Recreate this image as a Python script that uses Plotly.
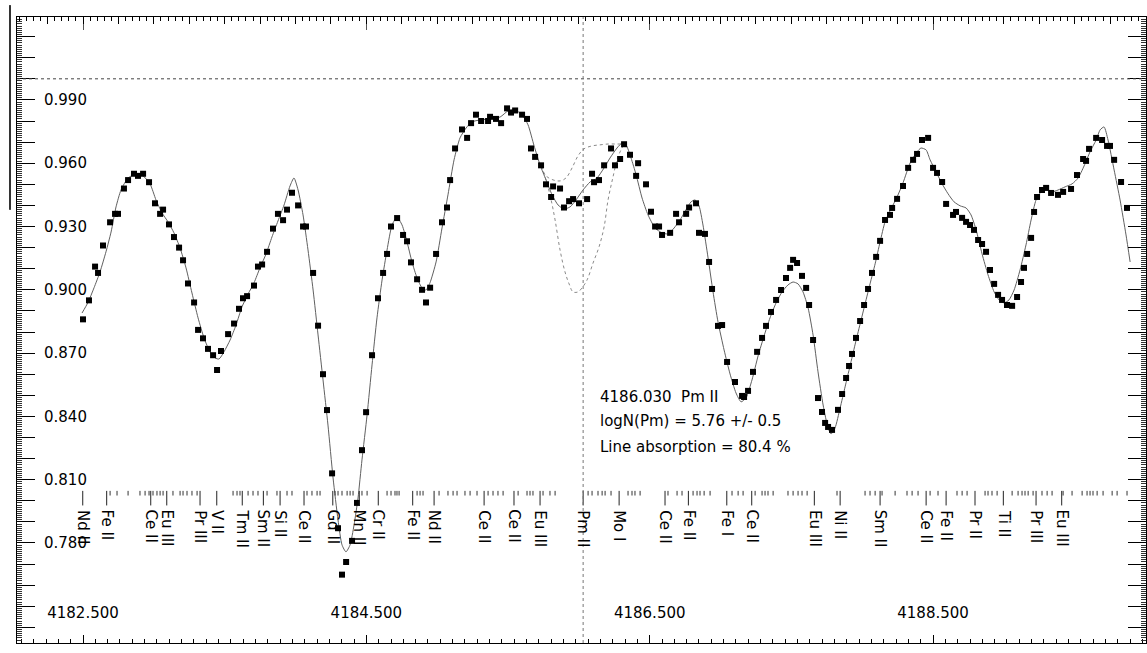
import plotly.graph_objects as go

# ---------------- data ----------------
wl_obs = [4182.500, 4182.542, 4182.585, 4182.606, 4182.641, 4182.691, 4182.726, 4182.747, 4182.789, 4182.818,
          4182.860, 4182.888, 4182.924, 4182.966, 4183.008, 4183.044, 4183.065, 4183.107, 4183.142, 4183.178,
          4183.206, 4183.241, 4183.284, 4183.312, 4183.347, 4183.382, 4183.418, 4183.446, 4183.474, 4183.524,
          4183.566, 4183.601, 4183.629, 4183.658, 4183.707, 4183.735, 4183.764, 4183.799, 4183.841, 4183.876,
          4183.912, 4183.940, 4183.975, 4184.018, 4184.053, 4184.074, 4184.124, 4184.159, 4184.194, 4184.222,
          4184.258, 4184.300, 4184.328, 4184.357, 4184.399, 4184.434, 4184.469, 4184.498, 4184.540, 4184.582,
          4184.618, 4184.646, 4184.674, 4184.717, 4184.759, 4184.787, 4184.815, 4184.858, 4184.893, 4184.921,
          4184.950, 4184.992, 4185.034, 4185.069, 4185.091, 4185.126, 4185.175, 4185.211, 4185.239, 4185.274,
          4185.310, 4185.359, 4185.373, 4185.415, 4185.451, 4185.493, 4185.521, 4185.550, 4185.599, 4185.634,
          4185.662, 4185.691, 4185.733, 4185.768, 4185.804, 4185.818, 4185.867, 4185.895, 4185.931, 4185.959,
          4186.001, 4186.058, 4186.093, 4186.107, 4186.142, 4186.178, 4186.227, 4186.255, 4186.291, 4186.319,
          4186.361, 4186.404, 4186.418, 4186.474, 4186.509, 4186.538, 4186.566, 4186.587, 4186.644, 4186.686,
          4186.707, 4186.757, 4186.778, 4186.827, 4186.848, 4186.890, 4186.919, 4186.940, 4186.982, 4187.011,
          4187.046, 4187.102, 4187.152, 4187.166, 4187.194, 4187.229, 4187.258, 4187.293, 4187.321, 4187.356,
          4187.392, 4187.427, 4187.462, 4187.491, 4187.512, 4187.540, 4187.575, 4187.604, 4187.625, 4187.653,
          4187.688, 4187.716, 4187.738, 4187.759, 4187.787, 4187.829, 4187.858, 4187.886, 4187.907, 4187.928,
          4187.956, 4187.985, 4188.013, 4188.041, 4188.069, 4188.098, 4188.126, 4188.161, 4188.196, 4188.211,
          4188.246, 4188.288, 4188.324, 4188.359, 4188.387, 4188.422, 4188.465, 4188.500, 4188.528, 4188.564,
          4188.592, 4188.641, 4188.662, 4188.705, 4188.733, 4188.761, 4188.789, 4188.818, 4188.846, 4188.874,
          4188.902, 4188.931, 4188.959, 4188.987, 4189.022, 4189.058, 4189.093, 4189.121, 4189.142, 4189.164,
          4189.192, 4189.213, 4189.234, 4189.269, 4189.298, 4189.333, 4189.382, 4189.418, 4189.474, 4189.516,
          4189.559, 4189.580, 4189.601, 4189.651, 4189.693, 4189.728, 4189.749, 4189.778, 4189.827, 4189.869]
flux_obs = [0.886, 0.895, 0.911, 0.908, 0.921, 0.932, 0.936, 0.936, 0.948, 0.952,
            0.955, 0.954, 0.955, 0.951, 0.941, 0.936, 0.938, 0.931, 0.925, 0.920,
            0.914, 0.903, 0.894, 0.881, 0.877, 0.872, 0.869, 0.862, 0.871, 0.879,
            0.884, 0.891, 0.896, 0.897, 0.902, 0.911, 0.912, 0.918, 0.929, 0.936,
            0.933, 0.938, 0.946, 0.940, 0.930, 0.930, 0.908, 0.883, 0.860, 0.843,
            0.813, 0.787, 0.765, 0.771, 0.781, 0.799, 0.824, 0.842, 0.869, 0.896,
            0.908, 0.917, 0.930, 0.934, 0.926, 0.923, 0.913, 0.905, 0.900, 0.894,
            0.901, 0.917, 0.932, 0.939, 0.952, 0.967, 0.976, 0.972, 0.979, 0.983,
            0.980, 0.980, 0.982, 0.981, 0.979, 0.986, 0.984, 0.985, 0.983, 0.981,
            0.967, 0.963, 0.959, 0.950, 0.944, 0.949, 0.948, 0.939, 0.942, 0.943,
            0.941, 0.943, 0.955, 0.951, 0.952, 0.959, 0.967, 0.959, 0.962, 0.969,
            0.964, 0.954, 0.960, 0.950, 0.937, 0.930, 0.930, 0.926, 0.927, 0.936,
            0.932, 0.936, 0.939, 0.941, 0.927, 0.9265, 0.9132, 0.9004, 0.8829, 0.8833,
            0.8658, 0.8563, 0.8497, 0.8492, 0.8521, 0.8611, 0.8706, 0.8772, 0.8829, 0.8895,
            0.8952, 0.8999, 0.9056, 0.9104, 0.9142, 0.9127, 0.9066, 0.9009, 0.8928, 0.8762,
            0.8487, 0.8421, 0.8369, 0.8350, 0.8336, 0.8431, 0.8506, 0.8582, 0.8639, 0.8696,
            0.8772, 0.8852, 0.8928, 0.9004, 0.9080, 0.9156, 0.9232, 0.9331, 0.9355, 0.9388,
            0.9431, 0.9492, 0.9578, 0.9616, 0.9644, 0.9710, 0.9720, 0.9578, 0.9554, 0.9511,
            0.9407, 0.9355, 0.9369, 0.9341, 0.9322, 0.9307, 0.9284, 0.9236, 0.9217, 0.9180,
            0.9094, 0.9028, 0.8976, 0.8952, 0.8928, 0.8924, 0.8966, 0.9037, 0.9104, 0.9170,
            0.9246, 0.9369, 0.9440, 0.9473, 0.9483, 0.9459, 0.9450, 0.9464, 0.9478, 0.9544,
            0.9620, 0.9611, 0.9668, 0.9720, 0.9710, 0.9682, 0.9682, 0.9616, 0.9511, 0.9388]

wl_fit = [4182.493, 4182.535, 4182.578, 4182.620, 4182.662, 4182.698, 4182.733, 4182.768, 4182.818, 4182.874,
          4182.924, 4182.973, 4183.015, 4183.058, 4183.100, 4183.142, 4183.185, 4183.227, 4183.269, 4183.312,
          4183.354, 4183.396, 4183.432, 4183.460, 4183.495, 4183.538, 4183.580, 4183.622, 4183.665, 4183.707,
          4183.749, 4183.792, 4183.834, 4183.876, 4183.919, 4183.961, 4183.989, 4184.018, 4184.053, 4184.088,
          4184.124, 4184.159, 4184.194, 4184.229, 4184.265, 4184.300, 4184.328, 4184.356, 4184.385, 4184.413,
          4184.441, 4184.469, 4184.505, 4184.540, 4184.575, 4184.611, 4184.646, 4184.681, 4184.716, 4184.752,
          4184.787, 4184.822, 4184.858, 4184.893, 4184.921, 4184.949, 4184.992, 4185.034, 4185.076, 4185.119,
          4185.161, 4185.204, 4185.246, 4185.302, 4185.373, 4185.444, 4185.500, 4185.549, 4185.599, 4185.641,
          4185.684, 4185.726, 4185.768, 4185.811, 4185.853, 4185.895, 4185.938, 4185.980, 4186.029, 4186.079,
          4186.128, 4186.178, 4186.220, 4186.269, 4186.305, 4186.333, 4186.368, 4186.404, 4186.446, 4186.488,
          4186.538, 4186.587, 4186.629, 4186.672, 4186.714, 4186.756, 4186.792, 4186.820, 4186.848, 4186.876,
          4186.912, 4186.947, 4186.982, 4187.025, 4187.067, 4187.109, 4187.145, 4187.180, 4187.222, 4187.265,
          4187.307, 4187.349, 4187.392, 4187.434, 4187.476, 4187.512, 4187.547, 4187.582, 4187.618, 4187.653,
          4187.688, 4187.724, 4187.759, 4187.780, 4187.808, 4187.844, 4187.879, 4187.914, 4187.949, 4187.985,
          4188.020, 4188.055, 4188.091, 4188.126, 4188.161, 4188.196, 4188.246, 4188.288, 4188.338, 4188.387,
          4188.415, 4188.451, 4188.479, 4188.521, 4188.564, 4188.606, 4188.648, 4188.691, 4188.733, 4188.768,
          4188.804, 4188.846, 4188.888, 4188.931, 4188.966, 4189.001, 4189.036, 4189.072, 4189.114, 4189.156,
          4189.192, 4189.227, 4189.262, 4189.298, 4189.340, 4189.382, 4189.432, 4189.481, 4189.524, 4189.566,
          4189.608, 4189.651, 4189.679, 4189.707, 4189.735, 4189.778, 4189.820, 4189.862, 4189.891]
flux_fit = [0.889, 0.894, 0.901, 0.9085, 0.918, 0.9274, 0.9393, 0.9473, 0.953, 0.9549,
            0.954, 0.9502, 0.9426, 0.9364, 0.9322, 0.927, 0.9198, 0.9104, 0.8985, 0.8867,
            0.8772, 0.8706, 0.8677, 0.8672, 0.8706, 0.8762, 0.8833, 0.8919, 0.898, 0.9033,
            0.9104, 0.917, 0.9251, 0.9326, 0.9402, 0.9492, 0.953, 0.9473, 0.9355, 0.9189,
            0.8999, 0.8786, 0.8573, 0.8359, 0.8108, 0.7909, 0.7791, 0.7758, 0.7791, 0.7885,
            0.8013, 0.8194, 0.8407, 0.8644, 0.8867, 0.9047, 0.9189, 0.9307, 0.9345, 0.9307,
            0.9227, 0.9132, 0.9056, 0.9009, 0.8999, 0.9033, 0.9132, 0.9293, 0.945, 0.9616,
            0.972, 0.9767, 0.9796, 0.9805, 0.981, 0.9819, 0.9848, 0.9853, 0.9829, 0.9782,
            0.9682, 0.9592, 0.9521, 0.945, 0.9402, 0.9383, 0.9393, 0.9426, 0.9473, 0.9511,
            0.953, 0.9578, 0.9625, 0.9672, 0.9696, 0.9687, 0.9625, 0.9545, 0.9435, 0.9355,
            0.9293, 0.927, 0.9265, 0.9293, 0.9331, 0.9379, 0.9417, 0.9426, 0.9398, 0.9307,
            0.9151, 0.899, 0.8848, 0.8715, 0.8601, 0.8511, 0.8469, 0.8488, 0.8573, 0.8687,
            0.8781, 0.8867, 0.8938, 0.8990, 0.9023, 0.9037, 0.9028, 0.8990, 0.8914, 0.8786,
            0.8611, 0.8454, 0.8345, 0.8317, 0.8345, 0.8440, 0.8540, 0.8639, 0.8739, 0.8838,
            0.8933, 0.9028, 0.9123, 0.9227, 0.9322, 0.9374, 0.9440, 0.9507, 0.9601, 0.9654,
            0.9672, 0.9663, 0.9616, 0.9559, 0.9502, 0.9455, 0.9417, 0.9398, 0.9388, 0.9355,
            0.9284, 0.917, 0.9071, 0.899, 0.8952, 0.8938, 0.8952, 0.8999, 0.9094, 0.9213,
            0.9331, 0.9426, 0.9464, 0.9473, 0.9464, 0.9473, 0.9488, 0.9502, 0.953, 0.9587,
            0.9654, 0.971, 0.9758, 0.9772, 0.971, 0.9568, 0.9426, 0.926, 0.9132]

# synthetic variants around the Pm II line
wl_weak_pm = [4185.733, 4185.768, 4185.818, 4185.867, 4185.909, 4185.952, 4185.994, 4186.036, 4186.093,
              4186.149, 4186.206, 4186.262, 4186.319]
flux_weak_pm = [0.9587, 0.9540, 0.9521, 0.9516, 0.9530, 0.9578, 0.9635, 0.9668, 0.9682,
                0.9687, 0.9691, 0.9691, 0.9691]
wl_strong_pm = [4185.733, 4185.768, 4185.804, 4185.832, 4185.867, 4185.902, 4185.931, 4185.959, 4185.994,
                4186.022, 4186.058, 4186.100, 4186.142, 4186.178, 4186.206, 4186.241, 4186.276, 4186.319]
flux_strong_pm = [0.9587, 0.9521, 0.9426, 0.9331, 0.9189, 0.9085, 0.9028, 0.8990, 0.8990,
                  0.9009, 0.9047, 0.9127, 0.9203, 0.9298, 0.9426, 0.9535, 0.9630, 0.9691]

# identified lines
id_wl = [4182.498, 4182.667, 4182.978, 4183.091, 4183.326, 4183.444, 4183.624, 4183.773, 4183.891,
         4184.060, 4184.263, 4184.450, 4184.584, 4184.827, 4184.978, 4185.331, 4185.542, 4185.726,
         4186.030, 4186.284, 4186.608, 4186.773, 4187.044, 4187.220, 4187.662, 4187.844, 4188.126,
         4188.451, 4188.592, 4188.796, 4188.996, 4189.227, 4189.408]
id_label = ["Nd II", "Fe II", "Ce II", "Eu III", "Pr III", "V II", "Tm II", "Sm II", "Si II",
            "Ce II", "Gd II", "Mn II", "Cr II", "Fe II", "Nd II", "Ce II", "Ce II", "Eu III",
            "Pm II", "Mo I", "Ce II", "Fe II", "Fe I", "Ce II", "Eu III", "Ni II", "Sm II",
            "Ce II", "Fe II", "Pr II", "Ti II", "Pr III", "Eu III"]
# other (unlabelled) line positions
weak_wl = [4182.691, 4182.740, 4182.818, 4182.902, 4182.938, 4182.966, 4182.994, 4183.022, 4183.044, 4183.065,
           4183.135, 4183.185, 4183.206, 4183.234, 4183.269, 4183.305, 4183.559, 4183.587, 4183.608, 4183.665,
           4183.700, 4183.735, 4183.799, 4183.869, 4183.940, 4183.975, 4184.081, 4184.116, 4184.152, 4184.173,
           4184.279, 4184.300, 4184.328, 4184.364, 4184.385, 4184.406, 4184.469, 4184.505, 4184.646, 4184.674,
           4184.702, 4184.716, 4184.731, 4184.858, 4184.879, 4184.900, 4185.013, 4185.076, 4185.112, 4185.140,
           4185.196, 4185.232, 4185.281, 4185.359, 4185.394, 4185.429, 4185.465, 4185.571, 4185.634, 4185.655,
           4185.676, 4185.747, 4185.796, 4185.832, 4186.065, 4186.093, 4186.135, 4186.164, 4186.185, 4186.227,
           4186.347, 4186.375, 4186.396, 4186.432, 4186.629, 4186.693, 4186.728, 4186.806, 4186.834, 4186.855,
           4186.884, 4186.926, 4187.081, 4187.124, 4187.159, 4187.244, 4187.293, 4187.314, 4187.335, 4187.371,
           4187.476, 4187.512, 4187.547, 4187.575, 4187.611, 4187.822, 4188.020, 4188.055, 4188.091, 4188.140,
           4188.232, 4188.316, 4188.352, 4188.394, 4188.479, 4188.535, 4188.669, 4188.705, 4188.740, 4188.867,
           4188.888, 4188.916, 4188.952, 4189.058, 4189.100, 4189.128, 4189.149, 4189.171, 4189.206, 4189.269,
           4189.305, 4189.340, 4189.418, 4189.481, 4189.552, 4189.587, 4189.608, 4189.629, 4189.658, 4189.700,
           4189.764, 4189.799, 4189.869]

pm_wl = 4186.030
info_lines = ["4186.030  Pm II", "logN(Pm) = 5.76 +/- 0.5", "Line absorption = 80.4 %"]
info_flux = [0.8492, 0.8378, 0.8255]
info_wl = 4186.136

x_range = [4182.034, 4190.003]
y_range = [0.7326, 1.0293]
x_major = [4182.5, 4184.5, 4186.5, 4188.5]
x_major_text = ["4182.500", "4184.500", "4186.500", "4188.500"]
y_major = [round(0.74 + 0.01 * i, 2) for i in range(29)]
y_labelled = [0.78, 0.81, 0.84, 0.87, 0.90, 0.93, 0.96, 0.99]
y_major_text = [("%.3f" % v) if v in y_labelled else "" for v in y_major]
continuum = 1.0

# ID tick geometry (flux units)
tick_top = 0.8047
tick_short_bot = 0.8025
tick_long_bot = 0.7978
label_top = 0.7967

FONT = "DejaVu Sans, Liberation Sans, Arial, sans-serif"

# ---------------- figure ----------------
fig = go.Figure()

fig.add_trace(go.Scatter(x=wl_strong_pm, y=flux_strong_pm, mode="lines",
                         line=dict(color="#8a8a8a", width=1, dash="dot", shape="spline"),
                         hoverinfo="skip", showlegend=False))
fig.add_trace(go.Scatter(x=wl_weak_pm, y=flux_weak_pm, mode="lines",
                         line=dict(color="#8a8a8a", width=1, dash="dot", shape="spline"),
                         hoverinfo="skip", showlegend=False))
fig.add_trace(go.Scatter(x=wl_fit, y=flux_fit, mode="lines",
                         line=dict(color="#606060", width=1, shape="spline", smoothing=0.6),
                         hoverinfo="skip", showlegend=False))
fig.add_trace(go.Scatter(x=wl_obs, y=flux_obs, mode="markers",
                         marker=dict(symbol="square", size=6, color="black", line=dict(width=0)),
                         showlegend=False))

# weak line ticks
wx, wy = [], []
for w in weak_wl:
    wx += [w, w, None]
    wy += [tick_top, tick_short_bot, None]
fig.add_trace(go.Scatter(x=wx, y=wy, mode="lines", line=dict(color="#333333", width=1),
                         hoverinfo="skip", showlegend=False))
# identified line ticks
ix, iy = [], []
for w in id_wl:
    ix += [w, w, None]
    iy += [tick_top, tick_long_bot, None]
fig.add_trace(go.Scatter(x=ix, y=iy, mode="lines", line=dict(color="#222222", width=1),
                         hoverinfo="skip", showlegend=False))

# empty traces to carry the top axes
fig.add_trace(go.Scatter(x=[], y=[], xaxis="x2", yaxis="y", showlegend=False))
fig.add_trace(go.Scatter(x=[], y=[], xaxis="x3", yaxis="y", showlegend=False))

annotations = []
for w, lab in zip(id_wl, id_label):
    annotations.append(dict(x=w, y=label_top, xref="x", yref="y", text=lab, textangle=90,
                            showarrow=False, xanchor="center", yanchor="top",
                            font=dict(family=FONT, size=15, color="black")))
for t, fy in zip(info_lines, info_flux):
    annotations.append(dict(x=info_wl, y=fy, xref="x", yref="y", text=t, showarrow=False,
                            xanchor="left", yanchor="middle",
                            font=dict(family=FONT, size=15, color="black")))

shapes = [
    dict(type="line", xref="paper", yref="y", x0=0, x1=1, y0=continuum, y1=continuum,
         line=dict(color="#444444", width=1, dash="dot")),
    dict(type="line", xref="x", yref="paper", x0=pm_wl, x1=pm_wl, y0=0, y1=1,
         line=dict(color="#777777", width=1, dash="dot")),
    dict(type="line", xref="paper", yref="paper", x0=-0.0062, x1=-0.0062, y0=0.692, y1=1.019,
         line=dict(color="#333333", width=2)),
]

fig.update_layout(
    width=1147, height=653, autosize=False,
    margin=dict(l=17, r=1, t=17, b=10),
    paper_bgcolor="white", plot_bgcolor="white",
    font=dict(family=FONT, size=15, color="black"),
    showlegend=False,
    annotations=annotations, shapes=shapes,
    xaxis=dict(range=x_range, showgrid=False, zeroline=False, showline=True, linecolor="black",
               linewidth=1, ticks="inside", tickmode="array", tickvals=x_major, ticktext=x_major_text,
               ticklen=8, tickcolor="black", ticklabelposition="inside", ticklabelstandoff=14,
               ticklabeloverflow="allow",
               tickfont=dict(family=FONT, size=15, color="black"),
               minor=dict(ticks="inside", tickmode="linear", tick0=4182.5, dtick=2 / 23, ticklen=4,
                          tickcolor="black", showgrid=False)),
    xaxis2=dict(range=x_range, overlaying="x", side="top", anchor="y", showgrid=False, zeroline=False,
                showline=True, linecolor="black", ticks="inside", tickmode="array", tickvals=x_major,
                ticklen=13, tickcolor="#555555", showticklabels=False,
                minor=dict(ticks="inside", tickmode="linear", tick0=4182.5, dtick=0.05, ticklen=4,
                           tickcolor="black", showgrid=False)),
    xaxis3=dict(range=x_range, overlaying="x", side="top", anchor="y", showgrid=False, zeroline=False,
                showline=False, ticks="inside", tickmode="linear", tick0=4182.5, dtick=0.25,
                ticklen=7, tickcolor="black", showticklabels=False),
    yaxis=dict(range=y_range, showgrid=False, zeroline=False, showline=True, linecolor="black",
               linewidth=1, ticks="inside", tickmode="array", tickvals=y_major, ticktext=y_major_text,
               ticklen=18, tickcolor="black", ticklabelposition="inside", ticklabelstandoff=9,
               ticklabeloverflow="allow",
               mirror="ticks", tickfont=dict(family=FONT, size=15, color="black"),
               minor=dict(ticks="inside", tickmode="linear", tick0=0.74, dtick=0.001, ticklen=5,
                          tickcolor="#333333", showgrid=False)),
)

fig.write_html("out.html")
